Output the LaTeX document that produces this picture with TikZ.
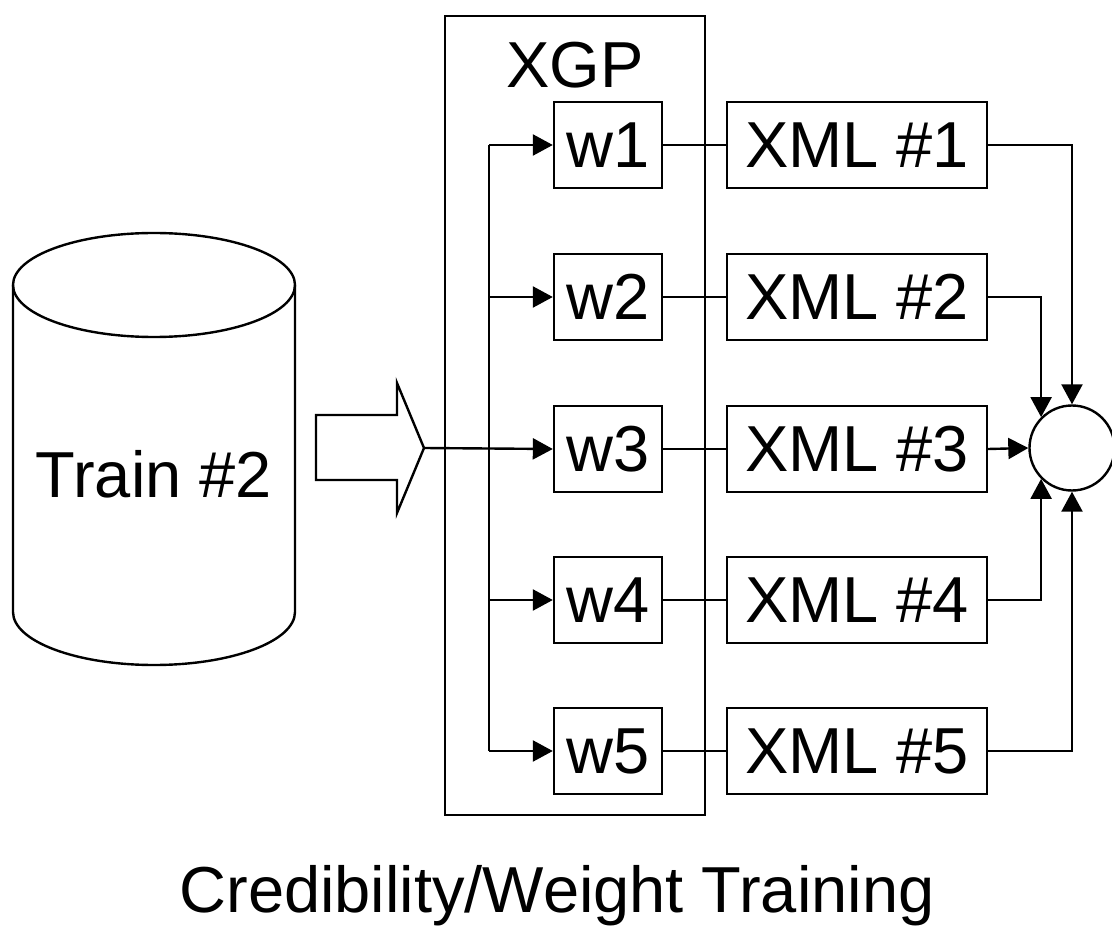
\documentclass[tikz,border=0pt]{standalone}
\usepackage{fontspec}
\setmainfont{Liberation Sans}
\usetikzlibrary{arrows.meta}
\begin{document}
\begin{tikzpicture}[x=1pt,y=-1pt,
  line width=2.4pt,
  every node/.style={font=\fontsize{65}{72}\selectfont, inner sep=0pt},
  wbox/.style={draw, minimum width=108pt, minimum height=86pt},
  xmlbox/.style={draw, minimum width=260pt, minimum height=86pt},
  link/.style={-{Triangle[length=20pt,width=21pt]}}
]
\useasboundingbox (0,0) rectangle (1112,928);

% database cylinder
\draw[fill=white] (13,285) -- (13,612) arc[start angle=180,end angle=360,x radius=141,y radius=-53] -- (295,285);
\draw (154,285) ellipse[x radius=141,y radius=52];
\node[anchor=base] (train) at (154,497) {Train \#2};

% block arrow feeding the trainer
\draw (316,415) -- (397,415) -- (397,383) -- (424,448) -- (397,513) -- (397,480) -- (316,480) -- cycle;
\coordinate (tip) at (424,448);

% XGP frame
\draw (445,16) rectangle (705,815);
\node[anchor=base] (xgp) at (575,88) {XGP};

% weight boxes and XML outputs
\foreach \i/\y in {1/145,2/297,3/449,4/600,5/751}{
  \node[wbox] (w\i) at (608,\y) {w\i};
  \node[xmlbox] (x\i) at (857,\y) {XML \#\i};
  \draw (w\i.east) -- (x\i.west);
}

% combiner
\node[draw, circle, minimum size=85pt, fill=white] (c) at (1072,448) {};

% distribution bus
\coordinate (bt) at (489,145);
\coordinate (bb) at (489,751);
\draw (bt) -- (bb);
\draw[link] (tip) -- (w3.west);
\foreach \i in {1,2,4,5}{
  \draw[link] (bt |- w\i) -- (w\i.west);
}

% outputs into the combiner
\draw[link] (x1.east) -| (c.north);
\draw[link] (x2.east) -| (c.135);
\draw[link] (x3.east) -- (c.west);
\draw[link] (x4.east) -| (c.225);
\draw[link] (x5.east) -| (c.south);

\node[anchor=base] (cap) at (557,912) {Credibility/Weight Training};
\end{tikzpicture}
\end{document}
